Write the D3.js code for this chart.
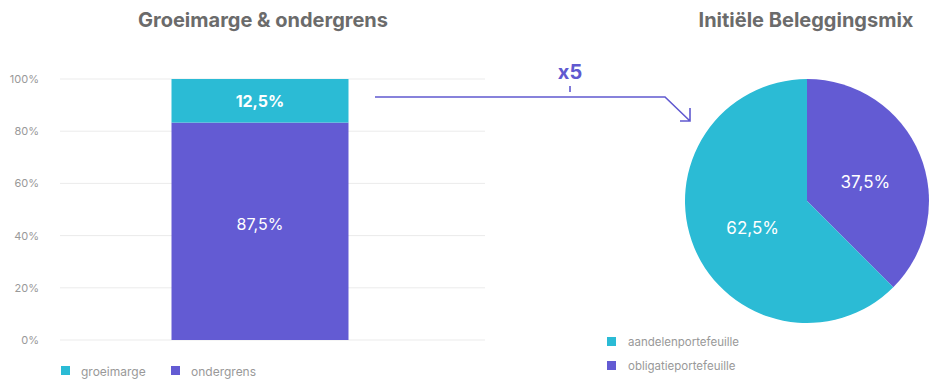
<!DOCTYPE html>
<html>
<head>
<meta charset="utf-8">
<script src="https://cdn.jsdelivr.net/npm/d3@7"></script>
<style>
  body { margin: 0; background: #fff; }
  text { font-family: Inter, "Noto Sans", sans-serif; }
</style>
</head>
<body>
<div id="figure"></div>
<script>
// bar data (drawn heights, labels as printed)
var barSeries = ["ondergrens", "groeimarge"];
var barValues = [83.3, 16.7];
var barLabels = ["87,5%", "12,5%"];
var yTicks = [0, 20, 40, 60, 80, 100];

// pie data
var pieSeries = ["aandelenportefeuille", "obligatieportefeuille"];
var pieValues = [62.5, 37.5];
var pieLabels = ["62,5%", "37,5%"];

var teal = "#2bbbd5";
var purple = "#635bd3";
var colors = { groeimarge: teal, ondergrens: purple, aandelenportefeuille: teal, obligatieportefeuille: purple };

var width = 936, height = 381;
var svg = d3.select("#figure").append("svg")
    .attr("width", width)
    .attr("height", height);

// titles
svg.append("text").attr("x", 263).attr("y", 27)
    .attr("text-anchor", "middle").attr("font-size", 20).attr("font-weight", 700)
    .attr("fill", "#6b6b6b").text("Groeimarge & ondergrens");
svg.append("text").attr("x", 806).attr("y", 27)
    .attr("text-anchor", "middle").attr("font-size", 20).attr("font-weight", 700)
    .attr("fill", "#6b6b6b").text("Initiële Beleggingsmix");

// ---- bar chart ----
var y = d3.scaleLinear().domain([0, 100]).range([340, 79]);
var x = d3.scaleBand().domain(["bar"]).range([60, 460]).paddingInner(0).paddingOuter(0.63);

svg.append("g")
    .selectAll("line")
    .data(yTicks)
    .enter().append("line")
    .attr("x1", 60).attr("x2", 485)
    .attr("y1", function (d) { return y(d) })
    .attr("y2", function (d) { return y(d) })
    .attr("stroke", "#ebebeb").attr("stroke-width", 1);

var yAxis = svg.append("g")
    .attr("transform", "translate(42,0)")
    .call(d3.axisLeft(y).tickValues(yTicks).tickSize(0).tickFormat(function (d) { return d + "%" }));
yAxis.select(".domain").remove();
yAxis.selectAll("text").attr("font-size", 11).attr("fill", "#999").attr("font-family", "Inter, sans-serif");

var stack = [];
var acc = 0;
barValues.forEach(function (v, i) {
    stack.push({ name: barSeries[i], y0: acc, y1: acc + v, label: barLabels[i] });
    acc += v;
});

svg.selectAll(".seg")
    .data(stack)
    .enter().append("rect")
    .attr("class", "seg")
    .attr("x", x("bar"))
    .attr("width", x.bandwidth())
    .attr("y", function (d) { return y(d.y1) })
    .attr("height", function (d) { return y(d.y0) - y(d.y1) })
    .attr("fill", function (d) { return colors[d.name] });

svg.selectAll(".seglabel")
    .data(stack)
    .enter().append("text")
    .attr("x", x("bar") + x.bandwidth() / 2)
    .attr("y", function (d, i) { return i == 0 ? y((d.y0 + d.y1) / 2) - 1 : y((d.y0 + d.y1) / 2) + 6 })
    .attr("text-anchor", "middle")
    .attr("font-size", 16)
    .attr("font-weight", function (d, i) { return i == 0 ? 400 : 700 })
    .attr("fill", "#fff")
    .text(function (d) { return d.label });

// bar legend
var legL = svg.append("g").selectAll("g")
    .data(barSeries.slice().reverse())
    .enter().append("g")
    .attr("transform", function (d, i) { return "translate(61," + 366 + ")translate(" + (i * 110) + ",0)" });
legL.append("rect").attr("width", 9).attr("height", 9).attr("fill", function (d) { return colors[d] });
legL.append("text").attr("x", 20).attr("y", 9.5).attr("font-size", 12).attr("fill", "#999").text(function (d) { return d });

// ---- arrow ----
var arrowColor = "#6059d0";
svg.append("path")
    .attr("d", "M375,97 H665 L690,121 M680,121 H690 V108")
    .attr("fill", "none").attr("stroke", arrowColor).attr("stroke-width", 1.6);
svg.append("line").attr("x1", 570).attr("x2", 570).attr("y1", 86).attr("y2", 92)
    .attr("stroke", arrowColor).attr("stroke-width", 1.6);
svg.append("text").attr("x", 570).attr("y", 79)
    .attr("text-anchor", "middle").attr("font-size", 20).attr("font-weight", 700)
    .attr("fill", arrowColor).text("x5");

// ---- pie ----
var cx = 807, cy = 201, r = 122;
var pie = d3.pie().sort(null).startAngle(0).endAngle(2 * Math.PI);
var arcs = pie(pieValues.slice().reverse());
var pieNames = pieSeries.slice().reverse();
var pieText = pieLabels.slice().reverse();
var arc = d3.arc().innerRadius(0).outerRadius(r);
var labelArc = d3.arc().innerRadius(r * 0.5).outerRadius(r * 0.5);

var pg = svg.append("g").attr("transform", "translate(" + cx + "," + cy + ")");
pg.selectAll("path")
    .data(arcs)
    .enter().append("path")
    .attr("d", arc)
    .attr("fill", function (d, i) { return colors[pieNames[i]] });
pg.selectAll("text")
    .data(arcs)
    .enter().append("text")
    .attr("transform", function (d) { var c = labelArc.centroid(d); return "translate(" + (c[0] + 2) + "," + (c[1] + 10) + ")" })
    .attr("text-anchor", "middle")
    .attr("font-size", 17)
    .attr("fill", "#fff")
    .text(function (d, i) { return pieText[i] });

// pie legend
var legR = svg.append("g").selectAll("g")
    .data(pieSeries)
    .enter().append("g")
    .attr("transform", function (d, i) { return "translate(607," + (337 + i * 24) + ")" });
legR.append("rect").attr("width", 9).attr("height", 9).attr("fill", function (d) { return colors[d] });
legR.append("text").attr("x", 21).attr("y", 9).attr("font-size", 11.5).attr("fill", "#999").text(function (d) { return d });
</script>
</body>
</html>
